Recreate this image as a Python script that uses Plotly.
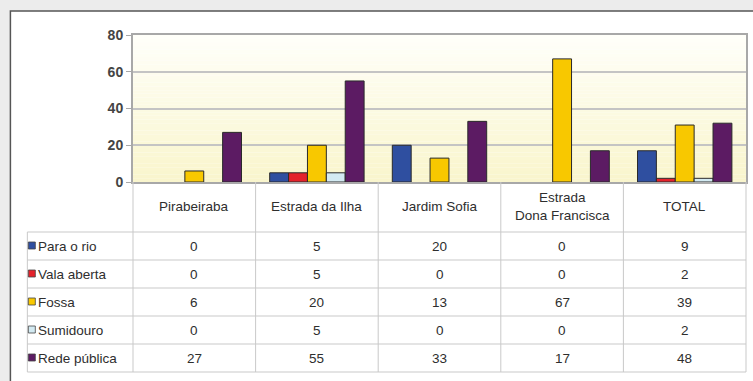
import plotly.graph_objects as go

# ---------------- data ----------------
categories = ["Pirabeiraba", "Estrada da Ilha", "Jardim Sofia", "Estrada<br>Dona Francisca", "TOTAL"]
series_names = ["Para o rio", "Vala aberta", "Fossa", "Sumidouro", "Rede pública"]
series_colors = ["#2f4fa0", "#e4222b", "#f8c800", "#d3eaf2", "#5c1b63"]

# bar heights as drawn in the chart
bar_para_o_rio = [0, 5, 20, 0, 17]
bar_vala_aberta = [0, 5, 0, 0, 2]
bar_fossa = [6, 20, 13, 67, 31]
bar_sumidouro = [0, 5, 0, 0, 2]
bar_rede_publica = [27, 55, 33, 17, 32]

# values printed in the data table
tab_para_o_rio = [0, 5, 20, 0, 9]
tab_vala_aberta = [0, 5, 0, 0, 2]
tab_fossa = [6, 20, 13, 67, 39]
tab_sumidouro = [0, 5, 0, 0, 2]
tab_rede_publica = [27, 55, 33, 17, 48]

y_ticks = [0, 20, 40, 60, 80]

bars = [bar_para_o_rio, bar_vala_aberta, bar_fossa, bar_sumidouro, bar_rede_publica]
tables = [tab_para_o_rio, tab_vala_aberta, tab_fossa, tab_sumidouro, tab_rede_publica]

# ---------------- layout geometry (pixels) ----------------
W, H = 753, 381
L, R, T, B = 133, 748, 35, 182
n = len(categories)


def px_x(px):
    return (px - L) / (R - L)


def px_y(py):
    return (B - py) / (B - T)


def cat_x(v):  # data x (category index) -> paper
    return (v + 0.5) / n


fig = go.Figure()
for name, col, vals in zip(series_names, series_colors, bars):
    fig.add_trace(go.Bar(
        x=list(range(n)), y=vals, name=name,
        marker=dict(color=col, line=dict(color="#2a2a2a",
                                         width=[1 if v else 0 for v in vals])),
        showlegend=False, hoverinfo="skip",
    ))

shapes = []
annotations = []

# outer frame
shapes.append(dict(type="rect", xref="paper", yref="paper", layer="below",
                   x0=px_x(10), x1=px_x(770), y0=px_y(11), y1=px_y(420),
                   fillcolor="white", line=dict(color="#555555", width=1.5)))

# plot background gradient (white -> light yellow)
nstrip = 40
top_c = (255, 255, 250)
bot_c = (249, 245, 204)
for k in range(nstrip):
    f = (k + 0.5) / nstrip
    c = tuple(round(bot_c[j] + (top_c[j] - bot_c[j]) * f) for j in range(3))
    shapes.append(dict(type="rect", xref="paper", yref="paper", layer="below",
                       x0=0, x1=1, y0=k / nstrip, y1=(k + 1) / nstrip,
                       fillcolor="rgb(%d,%d,%d)" % c, line=dict(width=0)))

grid_c = "#c9c9c9"
row_h = 28
header_bottom = 232
table_bottom = header_bottom + row_h * len(series_names)

# vertical column lines of the table
for i in range(n + 1):
    xx = cat_x(i - 0.5)
    shapes.append(dict(type="line", xref="paper", yref="paper",
                       x0=xx, x1=xx, y0=px_y(B), y1=px_y(table_bottom),
                       line=dict(color=grid_c, width=1)))
# legend column left border
shapes.append(dict(type="line", xref="paper", yref="paper",
                   x0=px_x(27), x1=px_x(27), y0=px_y(header_bottom), y1=px_y(table_bottom),
                   line=dict(color=grid_c, width=1)))
# horizontal row lines
for r in range(len(series_names) + 1):
    yy = px_y(header_bottom + r * row_h)
    shapes.append(dict(type="line", xref="paper", yref="paper",
                       x0=px_x(27), x1=1, y0=yy, y1=yy,
                       line=dict(color=grid_c, width=1)))

txt_font = dict(family="Liberation Sans, Arial, sans-serif", size=13.5, color="#2e2e2e")

# header row
for i, c in enumerate(categories):
    annotations.append(dict(xref="paper", yref="paper", x=cat_x(i), y=px_y((B + header_bottom) / 2 - 1),
                            text=c, showarrow=False, font=txt_font, xanchor="center", yanchor="middle"))

# table body
for r, (name, col, vals) in enumerate(zip(series_names, series_colors, tables)):
    yc = header_bottom + r * row_h + row_h / 2
    shapes.append(dict(type="rect", xref="paper", yref="paper",
                       x0=px_x(28), x1=px_x(35), y0=px_y(yc - 4), y1=px_y(yc + 3),
                       fillcolor=col, line=dict(color="#444444", width=0.8)))
    annotations.append(dict(xref="paper", yref="paper", x=px_x(36), y=px_y(yc),
                            text=name, showarrow=False, font=txt_font,
                            xanchor="left", yanchor="middle"))
    for i, v in enumerate(vals):
        annotations.append(dict(xref="paper", yref="paper", x=cat_x(i), y=px_y(yc),
                                text=str(v), showarrow=False, font=txt_font,
                                xanchor="center", yanchor="middle"))

fig.update_layout(
    width=W, height=H,
    margin=dict(l=L, r=W - R, t=T, b=H - B, pad=0),
    paper_bgcolor="#ececec",
    plot_bgcolor="rgba(0,0,0,0)",
    barmode="group", bargap=0.23, bargroupgap=0,
    shapes=shapes, annotations=annotations,
    xaxis=dict(range=[-0.5, n - 0.5], showticklabels=False, showgrid=False, zeroline=False,
               showline=True, linecolor="#a8a8a8", linewidth=2, mirror=True, ticks=""),
    yaxis=dict(range=[0, 80], tickvals=y_ticks, showgrid=True, gridcolor="#c4c4c4", gridwidth=1.5,
               zeroline=False, showline=True, linecolor="#a8a8a8", linewidth=2, mirror=True,
               ticks="outside", ticklen=5, tickcolor="#a8a8a8",
               tickfont=dict(family="Liberation Sans, Arial, sans-serif", size=14, color="#444444",
                             weight="bold")),
)

fig.write_html("out.html")
